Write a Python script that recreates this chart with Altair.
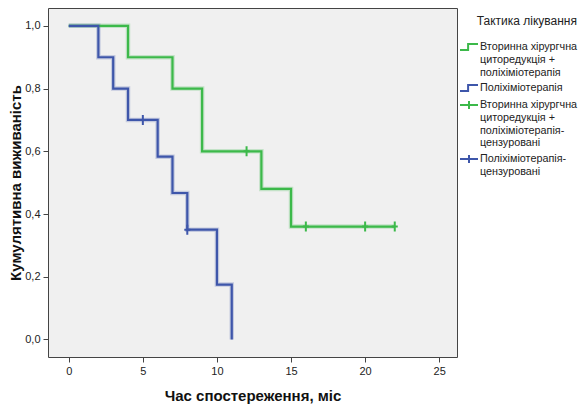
import altair as alt
import pandas as pd

# ---- data ----
S1 = "Вторинна хірургчна|циторедукція +|поліхіміотерапія"
S2 = "Поліхіміотерапія"
S3 = "Вторинна хірургчна|циторедукція +|поліхіміотерапія-|цензуровані"
S4 = "Поліхіміотерапія-|цензуровані"
groups = [S1, S2, S3, S4]

green_time = [0, 4, 7, 9, 13, 15, 22]
green_surv = [1.0, 0.9, 0.8, 0.6, 0.48, 0.36, 0.36]
green_cens_time = [12, 16, 20, 22]
green_cens_surv = [0.6, 0.36, 0.36, 0.36]

blue_time = [0, 2, 3, 4, 6, 7, 8, 10, 11]
blue_surv = [1.0, 0.9, 0.8, 0.7, 0.583, 0.467, 0.35, 0.175, 0.0]
blue_cens_time = [5, 8]
blue_cens_surv = [0.7, 0.35]

x_ticks = [0, 5, 10, 15, 20, 25]
y_ticks = [0.0, 0.2, 0.4, 0.6, 0.8, 1.0]

GREEN = "#3cb94a"
BLUE = "#3e56aa"

STEP_SYM = "M-1,0.33H-0.1V-0.33H1"
CENS_SYM = "M-1,0H1M0,-0.45V0.45"
PLUS = "M-0.6,0H0.6M0,-1V1"

green_line = pd.DataFrame({"t": green_time, "s": green_surv, "g": S1})
blue_line = pd.DataFrame({"t": blue_time, "s": blue_surv, "g": S2})
green_cens = pd.DataFrame({"t": green_cens_time, "s": green_cens_surv, "g": S3})
blue_cens = pd.DataFrame({"t": blue_cens_time, "s": blue_cens_surv, "g": S4})
allpts = pd.concat([green_line, blue_line, green_cens, blue_cens])

FONT = "Liberation Sans"

color_scale = alt.Scale(domain=groups, range=[GREEN, BLUE, GREEN, BLUE])
shape_scale = alt.Scale(domain=groups, range=[STEP_SYM, STEP_SYM, CENS_SYM, CENS_SYM])
xs = alt.Scale(domain=[-1.4, 26.2], nice=False, zero=False)
ys = alt.Scale(domain=[-0.056, 1.057], nice=False, zero=False)

x_enc = alt.X("t:Q", scale=xs,
              axis=alt.Axis(values=x_ticks, format="d", title="Час спостереження, міс",
                            titlePadding=12))
y_enc = alt.Y("s:Q", scale=ys,
              axis=alt.Axis(values=y_ticks, title="Кумулятивна виживаність",
                            labelExpr="replace(format(datum.value, '.1f'), '.', ',')",
                            titlePadding=1))


def legend():
    return alt.Legend(
        title="Тактика лікування",
        orient="none", legendX=411, legendY=8,
        titleAnchor="end", titleFontSize=12, titleFontWeight="normal", titleColor="#222",
        titlePadding=9, titleFont=FONT,
        labelExpr="split(datum.label, '|')",
        labelFontSize=10.8, labelColor="#222", labelFont=FONT, labelOffset=1, labelLimit=200,
        symbolSize=324, symbolStrokeWidth=2, rowPadding=0,
    )


legend_layer = alt.Chart(allpts).mark_point(filled=False, strokeWidth=2, opacity=0).encode(
    x=x_enc, y=y_enc,
    color=alt.Color("g:N", scale=color_scale, legend=legend()),
    shape=alt.Shape("g:N", scale=shape_scale, legend=legend()),
)


def step_line(df, col, width, op):
    return alt.Chart(df).mark_line(interpolate="step-after", strokeWidth=width, color=col,
                                   opacity=op).encode(x="t:Q", y="s:Q")


def cens_marks(df, col):
    return alt.Chart(df).mark_point(shape=PLUS, size=100, filled=False, strokeWidth=2,
                                    color=col, opacity=1).encode(x="t:Q", y="s:Q")


chart = alt.layer(
    legend_layer,
    step_line(green_line, GREEN, 4.5, 0.25),
    step_line(blue_line, BLUE, 4.5, 0.25),
    step_line(green_line, GREEN, 2.2, 1),
    step_line(blue_line, BLUE, 2.2, 1),
    cens_marks(green_cens, GREEN),
    cens_marks(blue_cens, BLUE),
).properties(
    width=409, height=349,
    autosize=alt.AutoSizeParams(type="none"),
    padding={"left": 40, "top": 0, "right": 122, "bottom": 49},
).configure(
    font=FONT
).configure_view(
    fill="#f0f0f0", stroke="#444444", strokeWidth=1
).configure_axis(
    grid=False, domain=False, tickColor="#444444", tickSize=5, tickWidth=1,
    labelFont=FONT, labelFontSize=11, labelColor="#222222", labelPadding=3,
    titleFont=FONT, titleFontSize=15, titleFontWeight="bold", titleColor="#111111",
)

chart.save("out.html", embed_options={"renderer": "svg", "actions": False})
